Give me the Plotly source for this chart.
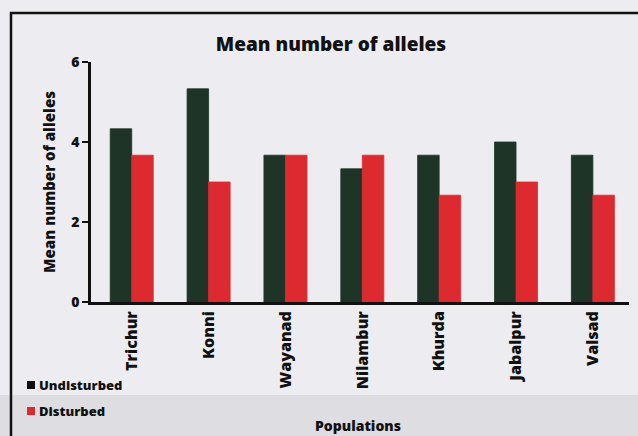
import plotly.graph_objects as go

# Mean number of alleles per population
populations = ["Trichur", "Konni", "Wayanad", "Nilambur", "Khurda", "Jabalpur", "Valsad"]
undisturbed = [4.33, 5.33, 3.67, 3.33, 3.67, 4.0, 3.67]
disturbed = [3.67, 3.0, 3.67, 3.67, 2.67, 3.0, 2.67]
series_names = ["Undisturbed", "Disturbed"]
series_colors = ["#1d3427", "#dc2a30"]

W, H = 638, 436
L, R, T, B = 91, 9, 62, 134
pw, ph = W - L - R, H - T - B


def px(x):
    return (x - L) / pw


def py(y):
    return (H - B - y) / ph


FONT = "Open Sans"
BG = "#ededf1"
INK = "#111111"


def f(size):
    return dict(family=FONT, size=size, weight=800, color=INK)


fig = go.Figure()
for vals, name, col in zip([undisturbed, disturbed], series_names, series_colors):
    fig.add_bar(x=populations, y=vals, name=name, showlegend=False,
                marker=dict(color=col, line=dict(color=col, width=0.8)))

shapes = [
    # slightly darker band along the bottom of the page
    dict(type="rect", xref="paper", yref="paper", layer="below",
         x0=px(-5), x1=px(W + 5), y0=py(395), y1=py(H + 5),
         fillcolor="#dddde2", line=dict(width=0)),
    # outer chart frame
    dict(type="rect", xref="paper", yref="paper", layer="above",
         x0=px(11), x1=px(W + 20), y0=py(13), y1=py(H + 20),
         line=dict(color=INK, width=2.5)),
]
annotations = [
    dict(text="Populations", xref="paper", yref="paper",
         x=px(358), y=py(425), xanchor="center", yanchor="middle",
         showarrow=False, font=f(14)),
]
# legend: small coloured squares with bold labels, bottom left
for i, (name, col) in enumerate(zip(series_names, series_colors)):
    yc = 385 + i * 26
    shapes.append(dict(type="rect", xref="paper", yref="paper",
                       x0=px(27), x1=px(35), y0=py(yc - 4), y1=py(yc + 4),
                       fillcolor="#111111" if i == 0 else col, line=dict(width=0)))
    annotations.append(dict(text=name, xref="paper", yref="paper",
                            x=px(37), y=py(yc), xanchor="left", yanchor="middle",
                            showarrow=False, font=f(13)))

fig.update_layout(
    width=W, height=H,
    margin=dict(l=L, r=R, t=T, b=B),
    paper_bgcolor=BG, plot_bgcolor="rgba(0,0,0,0)",
    barmode="group", bargap=0.44, bargroupgap=0.0,
    font=dict(family=FONT, color=INK),
    title=dict(text="Mean number of alleles", xref="container", x=331 / W,
               xanchor="center", y=1 - 44 / H, yanchor="middle", font=f(19)),
    xaxis=dict(range=[-0.53, 6.47], showgrid=False, showline=True, linecolor=INK,
               linewidth=2.5, ticks="", tickangle=-90, tickfont=f(16),
               zeroline=False),
    yaxis=dict(range=[0, 6], tickvals=[0, 2, 4, 6], showgrid=False, showline=True,
               linecolor=INK, linewidth=2.5, ticks="outside", ticklen=6,
               tickwidth=2, tickcolor=INK, zeroline=False, tickfont=f(14),
               title=dict(text="Mean number of alleles", standoff=12, font=f(15))),
    shapes=shapes,
    annotations=annotations,
)

fig.write_html("out.html")
